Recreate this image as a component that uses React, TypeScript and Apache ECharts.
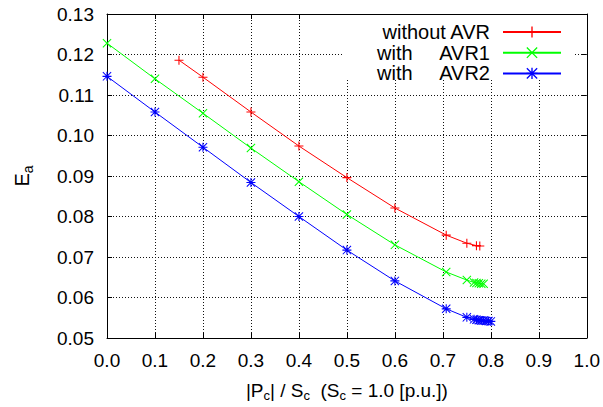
import React, { useEffect, useRef } from "react";
import * as echarts from "echarts";

const xRed = [0.15, 0.2, 0.3, 0.4, 0.5, 0.6, 0.707, 0.75, 0.77, 0.777];
const yRed = [0.1186, 0.1144, 0.1058, 0.0974, 0.0896, 0.0821, 0.0754, 0.0734, 0.0728, 0.0727];
const xGreen = [0, 0.1, 0.2, 0.3, 0.4, 0.5, 0.6, 0.707, 0.75, 0.765, 0.77, 0.775, 0.78, 0.785];
const yGreen = [0.1228, 0.114, 0.1055, 0.0969, 0.0886, 0.0805, 0.073, 0.0663, 0.0643, 0.0637, 0.0636, 0.0635, 0.0634, 0.0634];
const xBlue = [0, 0.1, 0.2, 0.3, 0.4, 0.5, 0.6, 0.707, 0.75, 0.765, 0.77, 0.775, 0.78, 0.785, 0.79, 0.795, 0.8];
const yBlue = [0.1146, 0.1058, 0.0971, 0.0884, 0.08, 0.0717, 0.0641, 0.0572, 0.0551, 0.0546, 0.0545, 0.0544, 0.0543, 0.0543, 0.0542, 0.0542, 0.0541];
const seriesNames = ["without AVR", "with    AVR1", "with    AVR2"];

const PLUS = "path://M4.4,0H5.6V4.4H10V5.6H5.6V10H4.4V5.6H0V4.4H4.4Z";
const CROSS = "path://M0,0.8L0.8,0L10,9.2L9.2,10Z M9.2,0L10,0.8L0.8,10L0,9.2Z";
const STAR =
  "path://M4.4,0H5.6V4.4H10V5.6H5.6V10H4.4V5.6H0V4.4H4.4Z M0,0.8L0.8,0L10,9.2L9.2,10Z M9.2,0L10,0.8L0.8,10L0,9.2Z";

const FONT = "Liberation Sans, Arial, sans-serif";
const FS = 19;
const LFS = 20;

function zip(xs: number[], ys: number[]) {
  return xs.map((x, i) => [x, ys[i]]);
}

export default function App() {
  const ref = useRef<HTMLDivElement>(null);
  useEffect(() => {
    const chart = echarts.init(ref.current!, null, { renderer: "svg" });
    const mk = (name: string, xs: number[], ys: number[], color: string, symbol: string) => ({
      name,
      type: "line",
      data: zip(xs, ys),
      symbol,
      symbolSize: 9,
      showSymbol: true,
      lineStyle: { color, width: 1 },
      itemStyle: { color },
      smooth: false,
    });
    const legendRich = {
      r: { width: 113, align: "right", fontSize: LFS, color: "#000", fontFamily: FONT },
      a: { width: 42, align: "left", fontSize: LFS, color: "#000", fontFamily: FONT },
      b: { width: 71, align: "right", fontSize: LFS, color: "#000", fontFamily: FONT },
    };
    const rowCenters = [29.5, 50.2, 70.9];
    const mkLegend = (name: string, i: number) => ({
      orient: "vertical",
      right: 41,
      top: rowCenters[i] - 7.5,
      align: "right",
      padding: 0,
      itemWidth: 58,
      itemHeight: 14,
      itemGap: 0,
      data: [name],
      textStyle: {
        fontSize: LFS,
        color: "#000",
        fontFamily: FONT,
        padding: [0, 8, 0, 0],
        rich: legendRich,
      },
      formatter: (n: string) => {
        if (n === "without AVR") return "{r|without AVR}";
        const parts = n.split(/\s+/);
        return `{a|${parts[0]}}{b|${parts[1]}}`;
      },
    });
    chart.setOption({
      animation: false,
      textStyle: { fontFamily: FONT },
      grid: { left: 107, top: 14, right: 16, bottom: 67, show: false },
      graphic: [
        {
          type: "rect",
          z: 3,
          shape: { x: 343, y: 15, width: 230, height: 65 },
          style: { fill: "#fff" },
          silent: true,
        },
      ],
      legend: seriesNames.map(mkLegend),
      xAxis: [
        {
          type: "value",
          min: 0,
          max: 1,
          interval: 0.1,
          position: "bottom",
          axisLine: { show: true, onZero: false, lineStyle: { color: "#000", width: 1 } },
          axisTick: { inside: true, length: 5, lineStyle: { color: "#000" } },
          axisLabel: {
            margin: 13,
            fontSize: FS,
            color: "#000",
            fontFamily: FONT,
            formatter: (v: number) => v.toFixed(1),
          },
          splitLine: { show: true, lineStyle: { color: "#111", type: [1, 2], width: 1 } },
          name: "{t||P}{s|c}{t|| / S}{s|c}{t|  (S}{s|c}{t| = 1.0 [p.u.])}",
          nameLocation: "middle",
          nameGap: 41,
          nameTextStyle: {
            fontSize: FS,
            color: "#000",
            fontFamily: FONT,
            rich: {
              t: { fontSize: FS, color: "#000", fontFamily: FONT },
              s: { fontSize: 13, color: "#000", fontFamily: FONT, padding: [10, 0, 0, 0] },
            },
          },
        },
        {
          type: "value",
          min: 0,
          max: 1,
          interval: 0.1,
          position: "top",
          axisLine: { show: true, onZero: false, lineStyle: { color: "#000", width: 1 } },
          axisTick: { inside: true, length: 5, lineStyle: { color: "#000" } },
          axisLabel: { show: false },
          splitLine: { show: false },
        },
      ],
      yAxis: [
        {
          type: "value",
          min: 0.05,
          max: 0.13,
          interval: 0.01,
          position: "left",
          axisLine: { show: true, onZero: false, lineStyle: { color: "#000", width: 1 } },
          axisTick: { inside: true, length: 5, lineStyle: { color: "#000" } },
          axisLabel: {
            margin: 13,
            fontSize: FS,
            color: "#000",
            fontFamily: FONT,
            formatter: (v: number) => v.toFixed(2),
          },
          splitLine: { show: true, lineStyle: { color: "#111", type: [1, 2], width: 1 } },
          name: "{t|E}{s|a}",
          nameLocation: "middle",
          nameGap: 72,
          nameRotate: 90,
          nameTextStyle: {
            fontSize: FS,
            color: "#000",
            fontFamily: FONT,
            rich: {
              t: { fontSize: 20, color: "#000", fontFamily: FONT },
              s: { fontSize: 14, color: "#000", fontFamily: FONT, padding: [12, 0, 0, 0] },
            },
          },
        },
        {
          type: "value",
          min: 0.05,
          max: 0.13,
          interval: 0.01,
          position: "right",
          axisLine: { show: true, onZero: false, lineStyle: { color: "#000", width: 1 } },
          axisTick: { inside: true, length: 5, lineStyle: { color: "#000" } },
          axisLabel: { show: false },
          splitLine: { show: false },
        },
      ],
      series: [
        mk(seriesNames[0], xRed, yRed, "#ff0000", PLUS),
        mk(seriesNames[1], xGreen, yGreen, "#00ff00", CROSS),
        mk(seriesNames[2], xBlue, yBlue, "#0000ff", STAR),
      ],
    });
    return () => chart.dispose();
  }, []);
  return (
    <div
      ref={ref}
      style={{ position: "fixed", left: 0, top: 0, width: 603, height: 407, background: "#fff" }}
    />
  );
}
